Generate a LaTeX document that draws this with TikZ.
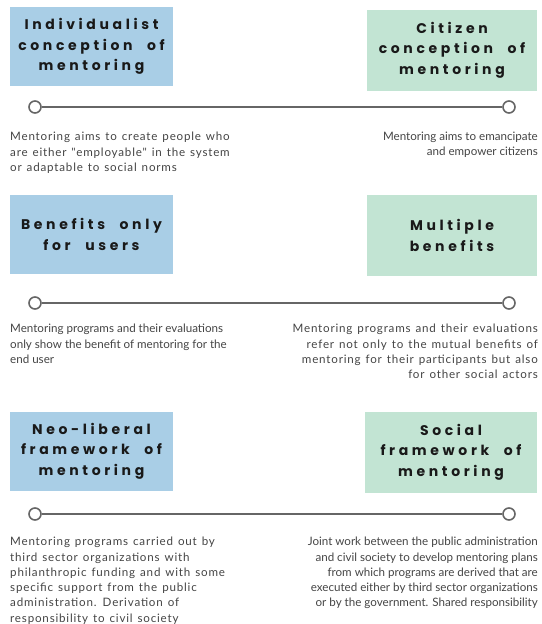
\documentclass[tikz,border=0pt]{standalone}
\usepackage{fontspec}
\setmainfont{Lato}
\newfontfamily\titlefont[LetterSpace=26,WordSpace=2.2]{Poppins}
\newfontfamily\bodyfont{Lato}
\newfontfamily\bodywide[LetterSpace=7,WordSpace=1.3]{Lato}
\definecolor{boxblue}{HTML}{A9CEE6}
\definecolor{boxgreen}{HTML}{C2E4D3}
\definecolor{linegray}{HTML}{666666}
\definecolor{textgray}{HTML}{444444}
\tikzset{
  titlebox/.style={inner sep=0pt, align=center,
    font=\titlefont\bfseries\fontsize{14}{20.5}\selectfont, text=black!90},
  bluebox/.style={titlebox, fill=boxblue},
  greenbox/.style={titlebox, fill=boxgreen},
  scaleline/.style={draw=linegray, line width=2pt},
  endpoint/.style={circle, draw=linegray, line width=1.6pt, fill=white, minimum size=12pt, inner sep=0pt},
  lefttext/.style={anchor=north west, align=left, inner sep=0pt, text=textgray},
  righttext/.style={anchor=north east, align=right, inner sep=0pt, text=textgray},
  wide/.style={font=\bodywide\fontsize{11.6}{15.3}\selectfont},
  narrow/.style={font=\bodyfont\fontsize{11.6}{15.3}\selectfont}
}
\begin{document}
\begin{tikzpicture}[x=1pt,y=-1pt]
\useasboundingbox (0,0) rectangle (541,624);
% Section 1
\node[bluebox, minimum width=163pt, minimum height=79pt] (b1) at (91.5,46.5) {Individualist\\conception of\\mentoring};
\node[greenbox, minimum width=170pt, minimum height=81pt] (g1) at (452,50) {Citizen\\conception of\\mentoring};
\node[endpoint] (l1) at (35,107) {};
\node[endpoint] (r1) at (509,107) {};
\draw[scaleline] (l1) -- (r1);
\node[lefttext, wide] (t1l) at (10,132) {Mentoring aims to create people who\\are either "employable" in the system\\or adaptable to social norms};
\node[righttext, narrow] (t1r) at (538,132) {Mentoring aims to emancipate\\and empower citizens};
% Section 2
\node[bluebox, minimum width=163pt, minimum height=79pt] (b2) at (91.5,234.5) {Benefits only\\for users};
\node[greenbox, minimum width=170pt, minimum height=81pt] (g2) at (452,235.5) {Multiple\\benefits};
\node[endpoint] (l2) at (35,303) {};
\node[endpoint] (r2) at (509,303) {};
\draw[scaleline] (l2) -- (r2);
\node[lefttext, narrow] (t2l) at (10,324) {Mentoring programs and their evaluations\\only show the benefit of mentoring for the\\end user};
\node[righttext, wide] (t2r) at (538,324) {Mentoring programs and their evaluations\\refer not only to the mutual benefits of\\mentoring for their participants but also\\for other social actors};
% Section 3
\node[bluebox, minimum width=163pt, minimum height=79pt] (b3) at (91.5,451) {Neo-liberal\\framework of\\mentoring};
\node[greenbox, minimum width=172pt, minimum height=81pt] (g3) at (451,452) {Social\\framework of\\mentoring};
\node[endpoint] (l3) at (35,514) {};
\node[endpoint] (r3) at (509,514) {};
\draw[scaleline] (l3) -- (r3);
\node[lefttext, wide] (t3l) at (10,537) {Mentoring programs carried out by\\third sector organizations with\\philanthropic funding and with some\\specific support from the public\\administration. Derivation of\\responsibility to civil society};
\node[righttext, narrow] (t3r) at (538,537) {Joint work between the public administration\\and civil society to develop mentoring plans\\from which programs are derived that are\\executed either by third sector organizations\\or by the government. Shared responsibility};
\end{tikzpicture}
\end{document}
